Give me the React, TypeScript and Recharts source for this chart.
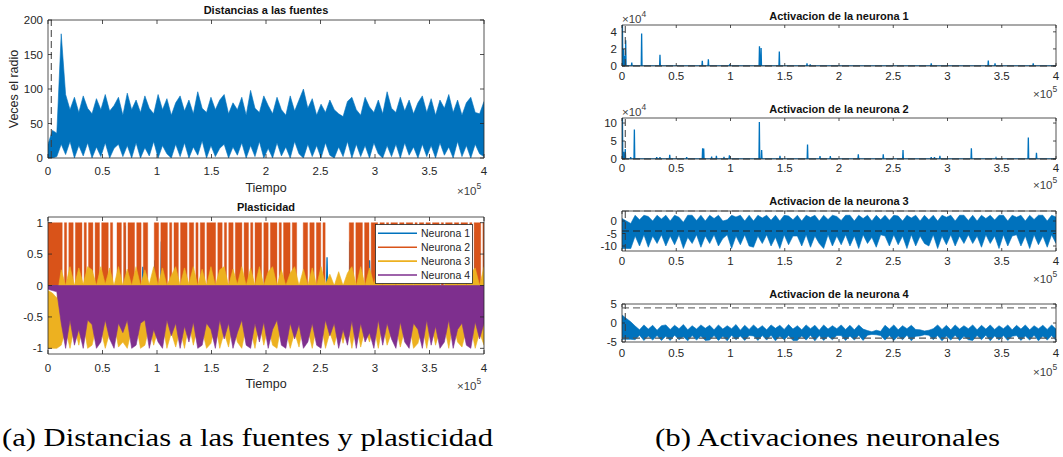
import React from 'react';
import { ComposedChart, Line, Area, XAxis, YAxis, ReferenceLine } from 'recharts';

// ---------- shared axis data ----------
const X_TICKS = [0, 50000, 100000, 150000, 200000, 250000, 300000, 350000, 400000];
const X_TICK_LABELS = ['0', '0.5', '1', '1.5', '2', '2.5', '3', '3.5', '4'];
const BIN = 400000 / 99; // time step of the 100-bin series
const BIN_FINE = 400000 / 199; // time step of the 200-bin series

// ---------- Distancias a las fuentes (per bin high / low) ----------
const distHi = [
  20, 40, 36, 180, 92, 70, 88, 66, 90, 72,
  64, 86, 70, 92, 68, 76, 88, 62, 94, 70,
  84, 66, 90, 72, 64, 92, 70, 86, 62, 80,
  90, 68, 84, 64, 96, 72, 66, 88, 70, 84,
  92, 64, 80, 70, 88, 62, 98, 72, 66, 90,
  76, 64, 88, 70, 62, 90, 68, 84, 100, 72,
  86, 62, 78, 66, 84, 70, 64, 60, 82, 88,
  70, 62, 88, 74, 66, 84, 64, 96, 72, 66,
  88, 68, 84, 64, 80, 90, 66, 86, 62, 84,
  72, 92, 66, 84, 62, 80, 88, 66, 64, 82,
];
const distLo = [
  0, 0, 2, 20, 5, 24, 0, 18, 3, 22,
  0, 16, 2, 22, 0, 14, 20, 2, 18, 0,
  22, 0, 15, 3, 24, 0, 18, 6, 0, 20,
  2, 22, 0, 16, 4, 25, 0, 18, 2, 14,
  20, 0, 16, 4, 22, 0, 18, 2, 24, 0,
  14, 0, 22, 3, 16, 0, 24, 6, 0, 20,
  2, 18, 0, 22, 4, 0, 16, 2, 24, 0,
  20, 2, 18, 0, 22, 6, 0, 18, 2, 20,
  0, 22, 4, 16, 0, 20, 2, 18, 0, 22,
  4, 16, 0, 24, 2, 18, 0, 20, 6, 2,
];

// ---------- Plasticidad ----------
// Neurona 1: visible spikes as [tiempo, valor]
const n1Spikes = [
  [21700, 0.9], [40000, 0.75], [70600, 0.95], [87000, 0.3], [98000, 0.4],
  [104000, 0.7], [158000, 0.75], [182000, 0.5], [199000, 0.9], [208000, 0.4],
  [256000, 0.45], [277000, 0.7], [295000, 0.4], [318000, 0.55], [345000, 0.6],
  [392000, 0.85],
];
// Neurona 2, 200 bins (stripes reaching 1)
const n2Fine = [
  1, 1, 1, 1, 1, 1, 1, 0, 1, 0,
  1, 1, 0, 1, 1, 1, 0, 1, 0, 1,
  1, 0, 1, 1, 0, 1, 1, 1, 0, 1,
  0, 0, 1, 1, 0, 1, 0, 1, 1, 1,
  0, 1, 1, 0, 1, 1, 0, 0, 0, 1,
  1, 0, 1, 1, 1, 0, 1, 0, 1, 1,
  0, 1, 1, 1, 0, 1, 1, 0, 1, 0,
  1, 1, 0, 1, 1, 1, 1, 0, 1, 1,
  0, 1, 0, 1, 1, 0, 1, 1, 1, 0,
  1, 1, 0, 1, 0, 1, 1, 1, 0, 1,
  1, 0, 1, 1, 1, 0, 1, 0, 1, 1,
  1, 0, 1, 1, 0, 0, 0, 1, 1, 0,
  1, 1, 0, 1, 1, 0, 1, 0, 0, 0,
  0, 0, 0, 0, 0, 0, 0, 0, 1, 1,
  0, 1, 1, 1, 0, 1, 1, 0, 1, 1,
  1, 0, 1, 1, 0, 1, 0, 1, 1, 1,
  0, 1, 1, 0, 1, 1, 1, 0, 1, 0,
  1, 1, 0, 1, 1, 0, 1, 1, 1, 0,
  1, 0, 1, 1, 1, 0, 1, 1, 0, 1,
  1, 1, 0, 1, 0, 1, 1, 1, 0, 1,
];
const n3Hi = [
  -0.08, -0.12, -0.2, 0.25, 0, 0.3, 0, 0.28, 0.02, 0.3,
  0.25, 0, 0.3, 0.02, 0.28, 0, 0.3, 0, 0.26, 0,
  0.3, 0, 0.25, 0.02, 0.3, 0, 0.28, 0, 0.16, 0.3,
  0, 0.28, 0.02, 0.3, 0, 0.26, 0, 0.3, 0, 0.25,
  0.3, 0, 0.26, 0.02, 0.3, 0, 0.28, 0, 0.3, 0,
  0.22, 0.3, 0, 0.25, 0, 0.2, 0.3, 0, 0.26, 0,
  0.28, 0, 0.3, 0.02, 0.18, 0, 0.22, 0, 0.2, 0.3,
  0, 0.3, 0, 0.28, 0.02, 0.3, 0, 0.26, 0.3, 0,
  0.3, 0, 0.26, 0, 0.3, 0.02, 0.28, 0, 0.3, 0,
  0, 0.28, 0.3, 0, 0.26, 0, 0.2, 0.28, 0, 0.3,
];
const n3Lo = [
  -1, -1, -1, -0.95, -0.7, -1, -0.65, -0.95, -0.6, -1,
  -0.95, -0.65, -0.7, -1, -0.75, -0.6, -0.98, -0.9, -1, -0.7,
  -0.6, -1, -0.95, -0.65, -0.95, -0.7, -0.6, -1, -0.75, -0.98,
  -0.7, -1, -0.6, -0.95, -0.65, -0.7, -1, -0.92, -0.6, -1,
  -0.75, -0.98, -0.6, -0.9, -1, -0.65, -0.7, -1, -0.6, -0.95,
  -0.65, -0.95, -1, -0.6, -0.7, -1, -0.75, -0.98, -0.6, -0.7,
  -1, -0.65, -0.6, -1, -0.75, -0.95, -0.65, -0.92, -0.6, -1,
  -0.6, -0.98, -0.7, -0.9, -0.65, -1, -0.6, -0.95, -0.75, -0.65,
  -0.98, -0.7, -0.6, -1, -0.92, -0.65, -1, -0.6, -0.95, -0.7,
  -0.65, -1, -0.6, -0.9, -0.98, -0.7, -0.65, -1, -0.75, -0.95,
];
const n4Hi = [
  0, 0, 0, 0, 0, 0, 0, 0, 0, 0,
  0, 0, 0, 0, 0, 0, 0, 0, 0, 0,
  0, 0, 0, 0, 0, 0, 0, 0, 0, 0,
  0, 0, 0, 0, 0, 0, 0, 0, 0, 0,
  0, 0, 0, 0, 0, 0, 0, 0, 0, 0,
  0, 0, 0, 0, 0, 0, 0, 0, 0, 0,
  0, 0, 0, 0, 0, 0, 0, 0, 0, 0,
  0, 0, 0, 0, 0, 0, 0, 0, 0, 0,
  0, 0, 0, 0, 0, 0, 0, 0, 0, 0,
  0, 0, 0, 0, 0, 0, 0, 0, 0, 0,
];
const n4Lo = [
  -0.06, -0.08, -0.1, -0.6, -1, -0.55, -0.95, -0.7, -1, -0.55,
  -0.62, -1, -0.9, -0.55, -0.85, -1, -0.6, -0.75, -0.55, -1,
  -0.95, -0.6, -0.55, -1, -0.7, -0.9, -1, -0.55, -0.8, -0.6,
  -1, -0.65, -0.9, -0.58, -1, -0.95, -0.6, -0.7, -1, -0.55,
  -0.85, -0.6, -1, -0.75, -0.55, -0.95, -1, -0.6, -0.9, -0.58,
  -1, -0.7, -0.55, -0.95, -1, -0.6, -0.85, -0.62, -1, -0.9,
  -0.6, -0.95, -1, -0.55, -0.8, -0.6, -1, -0.7, -0.95, -0.56,
  -1, -0.6, -0.9, -0.75, -1, -0.55, -0.95, -0.6, -0.85, -1,
  -0.58, -0.9, -1, -0.6, -0.7, -1, -0.55, -0.95, -0.65, -1,
  -0.9, -0.55, -1, -0.7, -0.6, -0.95, -1, -0.58, -0.85, -0.6,
];

// ---------- Activaciones (spikes as [tiempo, valor]) ----------
const act1Spikes = [
  [400, 48000], [1300, 20000], [2400, 12000], [3400, 30000], [9000, 4000],
  [18100, 38000], [35000, 13000], [74000, 6000], [79600, 8000], [99000, 1000],
  [126700, 23000], [128200, 21000], [145000, 17000], [170500, 3000], [173500, 2000],
  [285000, 3000], [337600, 6500], [343800, 3000], [379000, 3000],
];
const act2Spikes = [
  [400, 114000], [1500, 20000], [3000, 28000], [8000, 5000], [11400, 82000],
  [32000, 5000], [35000, 5000], [44000, 12000], [59600, 5000], [74300, 30000],
  [75300, 29000], [82600, 7000], [87000, 9000], [94000, 6000], [99000, 10000],
  [126600, 103000], [128700, 25000], [145600, 9000], [171000, 40000], [182500, 8000],
  [192000, 8000], [217800, 13000], [240800, 13000], [259000, 25000], [285000, 5000],
  [288000, 5000], [293000, 9000], [322000, 30000], [344700, 3000], [374500, 60000],
  [382000, 17000],
];
const act3Hi = [
  1, 0, -1, 2.3, 0.5, 2.3, 1.8, 0, 2.3, 0.8,
  2.3, 0, 2.3, 1.5, -0.5, 2.3, 2.3, 0.2, 2.3, 0,
  2.3, 1, 2.3, 0, 0.5, 2.3, 1.6, 2.3, 0, 2.3,
  0, 2.3, 1.2, 2.3, 0.3, 2.3, 0, 2.3, 2, 0.5,
  2.3, 0, 2.3, 1.4, 2.3, 0, 2.3, 0.6, 2.3, 1.8,
  0.2, 2.3, 2.3, 0, 2.3, 1, 2.3, 0, 2.3, 0.5,
  2.3, 0.3, 2.3, 2, 0, 2.3, 1.2, 2.3, 0, 2.3,
  0.5, 2.3, 0, 2.3, 1.5, 2.3, 0, 2.3, 2.3, 0.2,
  2.3, 0, 2.3, 1, 2.3, 0.4, 2.3, 2.3, 0, 2.3,
  1.5, 2.3, 0, 2.3, 0.6, 2.3, 2.3, 0, 2.3, 1.6,
];
const act3Lo = [
  -11, -11, -11, -6, -10, -5.5, -10.5, -6, -9, -5.5,
  -10, -6, -9.5, -5.5, -11, -6.5, -9, -5.5, -10.5, -6,
  -9, -5.5, -10, -7, -5.5, -11, -6, -9.5, -5.5, -10,
  -10.5, -6, -9, -5.5, -10, -6.5, -11, -5.5, -9.5, -6,
  -6, -10, -5.5, -10.5, -6, -9, -11, -5.5, -10, -6,
  -9.5, -5.5, -10, -6, -11, -5.5, -9, -6.5, -10.5, -5.5,
  -6, -10, -5.5, -9.5, -6, -11, -5.5, -10, -6, -9,
  -10, -5.5, -11, -6, -9.5, -5.5, -10, -6, -9, -5.5,
  -9, -6, -10.5, -5.5, -9, -6, -11, -5.5, -10, -6,
  -5.5, -10, -6, -11, -5.5, -9.5, -6, -10.5, -5.5, -9,
];
const act4Hi = [
  2.1, 1.2, 0.3, -0.8, -1.8, -0.5, -1.6, -0.6, -1.9, -0.7,
  -0.5, -1.7, -0.6, -1.5, -0.4, -1.8, -0.7, -1.6, -0.5, -1.4,
  -0.6, -1.8, -0.5, -1.6, -0.7, -1.5, -0.4, -1.9, -0.6, -1.7,
  -0.5, -1.6, -0.7, -1.8, -0.5, -1.4, -0.6, -1.7, -0.4, -1.6,
  -0.7, -1.8, -0.5, -1.5, -0.6, -1.9, -0.5, -1.6, -0.7, -1.5,
  -0.5, -1.7, -0.6, -1.8, -0.5, -1.6, -2, -2.3, -1.9, -2.2,
  -0.6, -1.6, -0.5, -1.8, -0.7, -1.5, -0.6, -1.7, -1.8, -2.1,
  -1.9, -1.5, -0.5, -1.7, -0.6, -1.8, -0.5, -1.6, -0.7, -1.5,
  -0.5, -1.8, -0.6, -1.6, -0.5, -1.7, -0.7, -1.5, -0.5, -1.8,
  -0.6, -1.6, -0.5, -1.8, -0.7, -1.5, -0.6, -1.7, -0.5, -1.6,
];
const act4Lo = [
  -4.3, -4.3, -4.3, -4.4, -3.2, -4.6, -3.4, -4.5, -3.3, -4.6,
  -3.5, -4.6, -3.2, -4.4, -3.6, -4.7, -3.3, -4.5, -3.4, -4.6,
  -4.5, -3.3, -4.6, -3.5, -4.7, -3.2, -4.4, -3.4, -4.6, -3.3,
  -3.4, -4.6, -3.3, -4.5, -3.2, -4.7, -3.5, -4.4, -3.3, -4.6,
  -4.6, -3.4, -4.5, -3.2, -4.7, -3.3, -4.6, -3.5, -4.4, -3.3,
  -3.3, -4.6, -3.4, -4.5, -3.2, -4.6, -3.2, -3, -3.1, -3.3,
  -4.5, -3.3, -4.6, -3.4, -4.4, -3.2, -4.7, -3.5, -3.4, -3.1,
  -3.2, -4.4, -3.3, -4.7, -3.4, -4.5, -3.2, -4.6, -3.5, -4.4,
  -4.6, -3.3, -4.4, -3.2, -4.7, -3.4, -4.5, -3.3, -4.6, -3.5,
  -3.3, -4.6, -3.4, -4.5, -3.2, -4.7, -3.4, -4.5, -3.3, -4.6,
];

// tick labels per panel
const distYTicks = [0, 50, 100, 150, 200];
const distYLabels = ['0', '50', '100', '150', '200'];
const plastYTicks = [-1, -0.5, 0, 0.5, 1];
const plastYLabels = ['-1', '-0.5', '0', '0.5', '1'];
const act1YTicks = [0, 20000, 40000];
const act1YLabels = ['0', '2', '4'];
const act2YTicks = [0, 50000, 100000];
const act2YLabels = ['0', '5', '10'];
const act3YTicks = [-10, -5, 0];
const act3YLabels = ['-10', '-5', '0'];
const act4YTicks = [-5, 0, 5];
const act4YLabels = ['-5', '0', '5'];
const legendNames = ['Neurona 1', 'Neurona 2', 'Neurona 3', 'Neurona 4'];

// ---------- helpers ----------
const AX = '#262626';
const FONT = '"Liberation Sans", Arial, Helvetica, sans-serif';
const BLUE = '#0072BD';
const ORANGE = '#D95319';
const YELLOW = '#EDB120';
const PURPLE = '#7E2F8E';
const DASH = '#3c3c3c';
const W = 1063;
const H = 457;

type Box = { left: number; right: number; top: number; bottom: number };

// one row per bin, each series as a [low, high] range
function bands(series: Record<string, [number[], number[]]>) {
  const keys = Object.keys(series);
  const n = series[keys[0]][0].length;
  const rows: any[] = [];
  for (let i = 0; i < n; i++) {
    const r: any = { t: i * BIN };
    keys.forEach((k) => {
      r[k] = [series[k][1][i], series[k][0][i]];
    });
    rows.push(r);
  }
  return rows;
}

function spikeRows(spikes: number[][], half = 350) {
  const rows: any[] = [{ t: 0, v: 0 }];
  spikes.forEach(([t, h]) => {
    rows.push({ t: t - half, v: 0 }, { t, v: h }, { t: t + half, v: 0 });
  });
  rows.push({ t: 400000, v: 0 });
  return rows;
}

const distData = bands({ d: [distHi, distLo] });
const plastBlue = spikeRows(n1Spikes, 500);
const plastOrange = n2Fine.map((v, i) => ({ t: i * BIN_FINE, n2: v }));
const plastYP = bands({ n3: [n3Hi, n3Lo], n4: [n4Hi, n4Lo] });
const act1Data = spikeRows(act1Spikes);
const act2Data = spikeRows(act2Spikes);
const act3Data = bands({ v: [act3Hi, act3Lo] });
const act4Data = bands({ v: [act4Hi, act4Lo] });

const makeXTick = (box: Box, tl: number, labelY: number) => (props: any) => {
  const { x, payload } = props;
  const idx = X_TICKS.indexOf(payload.value);
  return (
    <g>
      <line x1={x} x2={x} y1={box.bottom} y2={box.bottom - tl} stroke={AX} strokeWidth={0.8} />
      <line x1={x} x2={x} y1={box.top} y2={box.top + tl} stroke={AX} strokeWidth={0.8} />
      <text x={x} y={labelY} textAnchor="middle" dominantBaseline="central" fontSize={11.5} fill={AX} fontFamily={FONT}>
        {X_TICK_LABELS[idx]}
      </text>
    </g>
  );
};

const makeYTick = (box: Box, tl: number, ticks: number[], labels: string[]) => (props: any) => {
  const { y, payload } = props;
  const idx = ticks.indexOf(payload.value);
  return (
    <g>
      <line x1={box.left} x2={box.left + tl} y1={y} y2={y} stroke={AX} strokeWidth={0.8} />
      <line x1={box.right} x2={box.right - tl} y1={y} y2={y} stroke={AX} strokeWidth={0.8} />
      <text x={box.left - 5} y={y} textAnchor="end" dominantBaseline="central" fontSize={11.5} fill={AX} fontFamily={FONT}>
        {labels[idx]}
      </text>
    </g>
  );
};

type PanelProps = {
  box: Box;
  data: any[];
  yDomain: [number, number];
  yTicks?: number[];
  yLabels?: string[];
  tl?: number;
  xLabelY?: number;
  hideAxes?: boolean;
  children: React.ReactNode;
};

function Panel({ box, data, yDomain, yTicks = [], yLabels = [], tl = 4, xLabelY = 0, hideAxes = false, children }: PanelProps) {
  const margin = hideAxes
    ? { top: box.top, right: W - box.right, bottom: H - box.bottom, left: box.left }
    : { top: box.top, right: W - box.right, bottom: H - box.bottom - 30, left: box.left - 40 };
  return (
    <div style={{ position: 'absolute', left: 0, top: 0, width: W, height: H }}>
      <ComposedChart width={W} height={H} data={data} margin={margin}>
        <XAxis
          dataKey="t"
          type="number"
          domain={[0, 400000]}
          ticks={X_TICKS}
          interval={0}
          allowDataOverflow
          hide={hideAxes}
          height={30}
          tickLine={false}
          tickSize={0}
          axisLine={{ stroke: AX, strokeWidth: 0.8 }}
          tick={makeXTick(box, tl, xLabelY)}
        />
        <YAxis
          type="number"
          domain={yDomain}
          ticks={yTicks}
          interval={0}
          allowDataOverflow
          hide={hideAxes}
          width={40}
          tickLine={false}
          tickSize={0}
          axisLine={{ stroke: AX, strokeWidth: 0.8 }}
          tick={makeYTick(box, tl, yTicks, yLabels)}
        />
        {children}
        {!hideAxes && <ReferenceLine y={yDomain[1]} stroke={AX} strokeWidth={0.8} />}
        {!hideAxes && <ReferenceLine x={400000} stroke={AX} strokeWidth={0.8} />}
      </ComposedChart>
    </div>
  );
}

const TL: Box = { left: 48, right: 484, top: 20, bottom: 158 };
const BL: Box = { left: 48, right: 484, top: 217, bottom: 354 };
const A1: Box = { left: 622, right: 1056, top: 25, bottom: 66 };
const A2: Box = { left: 622, right: 1056, top: 118, bottom: 159 };
const A3: Box = { left: 622, right: 1056, top: 211, bottom: 251 };
const A4: Box = { left: 622, right: 1056, top: 304, bottom: 342 };
const PLAST_DOMAIN: [number, number] = [-1.09, 1.09];

function Exp({ x, y, base, exp }: { x: number; y: number; base: string; exp: string }) {
  return (
    <text x={x} y={y} fontSize={11.5} fill="#404040" fontFamily={FONT}>
      <tspan>{base}</tspan>
      <tspan dy={-6} fontSize={8.5}>{exp}</tspan>
    </text>
  );
}

function band(key: string, color: string, type: 'linear' | 'step', sw = 0.8) {
  return (
    <Area
      key={key}
      dataKey={key}
      type={type}
      fill={color}
      fillOpacity={1}
      stroke={color}
      strokeWidth={sw}
      dot={false}
      activeDot={false}
      isAnimationActive={false}
    />
  );
}

export default function App() {
  const title = { fontSize: 11, fontWeight: 700, fill: '#111', fontFamily: FONT, textAnchor: 'middle' as const };
  const legendColors = [BLUE, ORANGE, YELLOW, PURPLE];
  return (
    <div style={{ position: 'absolute', left: 0, top: 0, width: W, height: H, background: '#fff', overflow: 'hidden' }}>
      {/* Distancias a las fuentes */}
      <Panel box={TL} data={distData} yDomain={[0, 200]} yTicks={distYTicks} yLabels={distYLabels} tl={4} xLabelY={171}>
        {band('d', BLUE, 'linear', 0.6)}
        <ReferenceLine x={3000} stroke={DASH} strokeDasharray="7 4" strokeWidth={1} />
      </Panel>

      {/* Plasticidad: layered series */}
      <Panel box={BL} data={plastBlue} yDomain={PLAST_DOMAIN} hideAxes>
        <Line dataKey="v" type="linear" stroke={BLUE} strokeWidth={1.3} dot={false} isAnimationActive={false} />
      </Panel>
      <Panel box={BL} data={plastOrange} yDomain={PLAST_DOMAIN} hideAxes>
        <Area
          dataKey="n2"
          type="step"
          baseValue={0}
          fill={ORANGE}
          fillOpacity={1}
          stroke={ORANGE}
          strokeWidth={0.4}
          dot={false}
          activeDot={false}
          isAnimationActive={false}
        />
      </Panel>
      <Panel box={BL} data={plastYP} yDomain={PLAST_DOMAIN} yTicks={plastYTicks} yLabels={plastYLabels} tl={4} xLabelY={368}>
        {band('n3', YELLOW, 'linear', 0.6)}
        {band('n4', PURPLE, 'linear', 0.6)}
      </Panel>

      {/* Activacion 1 */}
      <Panel box={A1} data={act1Data} yDomain={[0, 48000]} yTicks={act1YTicks} yLabels={act1YLabels} tl={3} xLabelY={76}>
        <Line dataKey="v" type="linear" stroke={BLUE} strokeWidth={1.3} dot={false} isAnimationActive={false} />
        <ReferenceLine y={0} stroke={DASH} strokeDasharray="7 4" strokeWidth={1.2} />
        <ReferenceLine x={3000} stroke={DASH} strokeDasharray="7 4" strokeWidth={1} />
      </Panel>

      {/* Activacion 2 */}
      <Panel box={A2} data={act2Data} yDomain={[0, 114000]} yTicks={act2YTicks} yLabels={act2YLabels} tl={3} xLabelY={168}>
        <Line dataKey="v" type="linear" stroke={BLUE} strokeWidth={1.3} dot={false} isAnimationActive={false} />
        <ReferenceLine y={0} stroke={DASH} strokeDasharray="7 4" strokeWidth={1.2} />
        <ReferenceLine x={3000} stroke={DASH} strokeDasharray="7 4" strokeWidth={1} />
      </Panel>

      {/* Activacion 3 */}
      <Panel box={A3} data={act3Data} yDomain={[-12, 4]} yTicks={act3YTicks} yLabels={act3YLabels} tl={3} xLabelY={261}>
        {band('v', BLUE, 'linear', 0.6)}
        <ReferenceLine y={4} stroke="#777" strokeDasharray="7 4" strokeWidth={1.2} />
        <ReferenceLine y={-4} stroke="#222" strokeDasharray="7 4" strokeWidth={1.2} />
        <ReferenceLine x={3000} stroke={DASH} strokeDasharray="7 4" strokeWidth={1} />
      </Panel>

      {/* Activacion 4 */}
      <Panel box={A4} data={act4Data} yDomain={[-5, 5]} yTicks={act4YTicks} yLabels={act4YLabels} tl={3} xLabelY={353}>
        {band('v', BLUE, 'linear', 0.6)}
        <ReferenceLine y={4} stroke="#777" strokeDasharray="7 4" strokeWidth={1.2} />
        <ReferenceLine y={-4} stroke="#555" strokeDasharray="7 4" strokeWidth={1.2} />
        <ReferenceLine x={3000} stroke={DASH} strokeDasharray="7 4" strokeWidth={1} />
      </Panel>

      {/* texts, legend, captions */}
      <svg width={W} height={H} style={{ position: 'absolute', left: 0, top: 0, pointerEvents: 'none' }}>
        <text x={266} y={14} {...title}>Distancias a las fuentes</text>
        <text x={266} y={211} {...title}>Plasticidad</text>
        <text x={839} y={20} {...title}>Activacion de la neurona 1</text>
        <text x={839} y={113} {...title}>Activacion de la neurona 2</text>
        <text x={839} y={205} {...title}>Activacion de la neurona 3</text>
        <text x={839} y={298} {...title}>Activacion de la neurona 4</text>

        <text x={266} y={192} fontSize={12.5} fill={AX} fontFamily={FONT} textAnchor="middle">Tiempo</text>
        <text x={266} y={388} fontSize={12.5} fill={AX} fontFamily={FONT} textAnchor="middle">Tiempo</text>
        <text
          x={0}
          y={0}
          fontSize={12.5}
          fill={AX}
          fontFamily={FONT}
          textAnchor="middle"
          transform="translate(18,89) rotate(-90)"
        >
          Veces el radio
        </text>

        <Exp x={457} y={194.5} base="×10" exp="5" />
        <Exp x={457} y={389.5} base="×10" exp="5" />
        <Exp x={1033} y={98} base="×10" exp="5" />
        <Exp x={1033} y={189} base="×10" exp="5" />
        <Exp x={1033} y={283} base="×10" exp="5" />
        <Exp x={1033} y={375.5} base="×10" exp="5" />
        <Exp x={622} y={22.5} base="×10" exp="4" />
        <Exp x={622} y={115.5} base="×10" exp="4" />

        {/* legend */}
        <rect x={375.5} y={224.5} width={97} height={59} fill="#fff" stroke={AX} strokeWidth={0.8} />
        {legendNames.map((name, i) => (
          <g key={name}>
            <line x1={378} x2={417} y1={233.3 + i * 13.9} y2={233.3 + i * 13.9} stroke={legendColors[i]} strokeWidth={1.6} />
            <text x={421} y={233.3 + i * 13.9} dominantBaseline="central" fontSize={10.5} fill={AX} fontFamily={FONT}>
              {name}
            </text>
          </g>
        ))}

        {/* captions */}
        <text x={2} y={446} fontSize={25} fill="#000" fontFamily='"Liberation Serif", "DejaVu Serif", serif' textLength={491} lengthAdjust="spacingAndGlyphs">
          (a) Distancias a las fuentes y plasticidad
        </text>
        <text x={655} y={446} fontSize={25} fill="#000" fontFamily='"Liberation Serif", "DejaVu Serif", serif' textLength={345} lengthAdjust="spacingAndGlyphs">
          (b) Activaciones neuronales
        </text>
      </svg>
    </div>
  );
}
